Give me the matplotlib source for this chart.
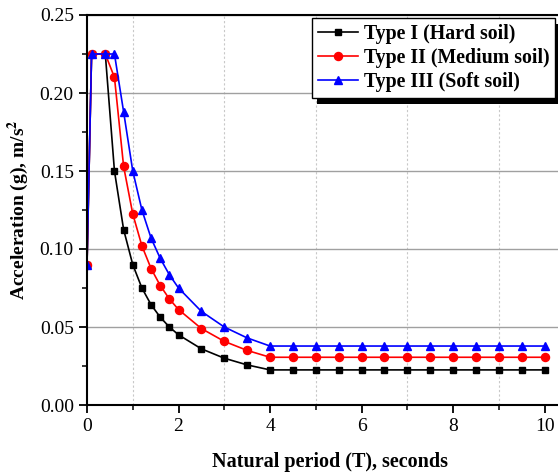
import matplotlib
matplotlib.use("Agg")
import matplotlib.pyplot as plt
from matplotlib.patches import Rectangle
from matplotlib.ticker import MultipleLocator

# natural period T (s), same sampling for all three curves
period = [0.0, 0.1, 0.4, 0.6, 0.8, 1.0, 1.2, 1.4, 1.6, 1.8, 2.0, 2.5, 3.0, 3.5,
          4.0, 4.5, 5.0, 5.5, 6.0, 6.5, 7.0, 7.5, 8.0, 8.5, 9.0, 9.5, 10.0]

# spectral acceleration
hard_soil = [0.090, 0.225, 0.225, 0.150, 0.1125, 0.090, 0.075, 0.0643, 0.0563,
             0.050, 0.045, 0.036, 0.030, 0.0257] + [0.0225] * 13
medium_soil = [0.090, 0.225, 0.225, 0.210, 0.153, 0.1225, 0.102, 0.0875, 0.0766,
               0.068, 0.0612, 0.049, 0.0408, 0.035] + [0.0306] * 13
soft_soil = [0.090, 0.225, 0.225, 0.225, 0.188, 0.150, 0.125, 0.107, 0.094,
             0.0835, 0.075, 0.060, 0.050, 0.043] + [0.0378] * 13

labels = ["Type I (Hard soil)", "Type II (Medium soil)", "Type III (Soft soil)"]

plt.rcParams["font.family"] = ["Liberation Serif", "DejaVu Serif"]
plt.rcParams["mathtext.fontset"] = "stix"

fig = plt.figure(figsize=(5.58, 4.74), dpi=100)
ax = fig.add_axes([87 / 558, 69 / 474, 485 / 558, 390 / 474])

ax.plot(period, hard_soil, color="black", lw=1.2, marker="s", ms=4.7, label=labels[0])
ax.plot(period, medium_soil, color="red", lw=1.2, marker="o", ms=5.8, label=labels[1])
ax.plot(period, soft_soil, color="blue", lw=1.2, marker="^", ms=6.2, label=labels[2])

ax.set_xlim(0, 10.6)
ax.set_ylim(0, 0.25)
ax.xaxis.set_major_locator(MultipleLocator(2))
ax.xaxis.set_minor_locator(MultipleLocator(1))
ax.yaxis.set_major_locator(MultipleLocator(0.05))
ax.yaxis.set_minor_locator(MultipleLocator(0.025))
ax.yaxis.set_major_formatter(matplotlib.ticker.FormatStrFormatter("%.2f"))

ax.grid(axis="y", which="major", color="#a0a0a0", lw=1.0, ls="-")
ax.grid(axis="x", which="minor", color="#c8c8c8", lw=0.8, ls=(0, (2, 2)))
ax.set_axisbelow(True)

ax.tick_params(which="major", direction="out", length=6, width=1.3, labelsize=14)
ax.tick_params(which="minor", direction="out", length=3.5, width=1.1)
for side in ["left", "bottom", "top", "right"]:
    ax.spines[side].set_linewidth(1.5)

ax.set_xlabel("Natural period (T), seconds", fontsize=14.5, fontweight="bold", labelpad=12)
ax.set_ylabel("Acceleration (g), m/s$^{\\mathbf{2}}$", fontsize=14, fontweight="bold", labelpad=6)

handles, _ = ax.get_legend_handles_labels()
leg = fig.legend(handles, labels, loc="upper left", bbox_to_anchor=(312 / 558, 1 - 18 / 474),
                 prop={"weight": "bold", "size": 14.3}, frameon=True, fancybox=False,
                 edgecolor="black", framealpha=1, borderpad=0.3, labelspacing=0.2,
                 handlelength=2.0, handletextpad=0.3, borderaxespad=0)
leg.get_frame().set_linewidth(1.0)
leg.set_zorder(5)

# solid black drop shadow under the legend box
fig.canvas.draw()
bb = leg.get_window_extent().transformed(fig.transFigure.inverted())
dx, dy = 5 / 558, 6 / 474
fig.patches.append(Rectangle((bb.x0 + dx, bb.y0 - dy), bb.width, bb.height,
                             transform=fig.transFigure, facecolor="black",
                             edgecolor="none", zorder=4))

fig.savefig("out.png", dpi=100)
